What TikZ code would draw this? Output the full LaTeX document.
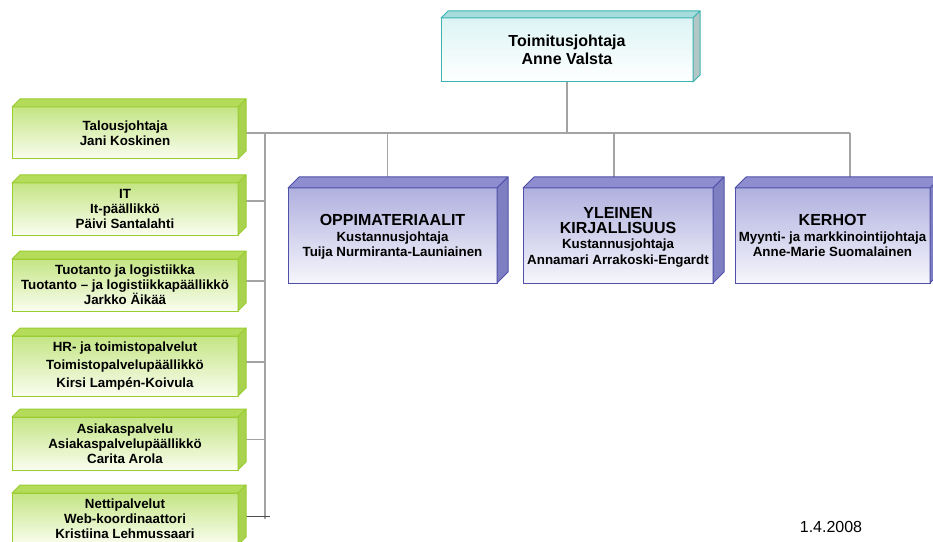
\documentclass[tikz,border=0pt]{standalone}
\usepackage{fontspec}
\setmainfont{Liberation Sans}
\usetikzlibrary{backgrounds}

\definecolor{viiva}{HTML}{A3A3A3}
\definecolor{tealline}{HTML}{3DB3B3}
\definecolor{tealtop}{HTML}{DDF4F4}
\definecolor{tealbevel}{HTML}{A6DCDC}
\definecolor{tealside}{HTML}{B2C6C6}
\definecolor{grnline}{HTML}{9ACD32}
\definecolor{grntop}{HTML}{C4E584}
\definecolor{grnbot}{HTML}{FAFDF0}
\definecolor{grnbevel}{HTML}{B5DB5A}
\definecolor{grnside}{HTML}{A9D24E}
\definecolor{purline}{HTML}{5050A8}
\definecolor{purtop}{HTML}{B0B0DF}
\definecolor{purbot}{HTML}{F6F6FC}
\definecolor{purbevel}{HTML}{8D8DCF}
\definecolor{purside}{HTML}{7E7EC2}

\tikzset{
  laatikko/.style={rectangle,inner sep=0pt,outer sep=0pt,line width=0.75pt,align=center},
  johto/.style={laatikko,draw=tealline,top color=tealtop,bottom color=white,
    minimum width=189pt,minimum height=48pt,font=\bfseries\fontsize{12}{13.5}\selectfont},
  tuki/.style={laatikko,draw=grnline,top color=grntop,bottom color=grnbot,
    minimum width=169.5pt,minimum height=39pt,font=\bfseries\fontsize{10}{11.25}\selectfont},
  yksikko/.style={laatikko,draw=purline,top color=purtop,bottom color=purbot,
    minimum height=71.25pt,text depth=-6pt,font=\bfseries\fontsize{10}{11.5}\selectfont},
  linkki/.style={draw=viiva,line width=1pt}
}

\begin{document}
\begin{tikzpicture}[x=0.75pt,y=-0.75pt]
\useasboundingbox (0,0) rectangle (933,542);
\clip (0,0) rectangle (933,542);
% ---------- toimitusjohtaja ----------
\node[johto] (ceo) at (567,50) {Toimitusjohtaja\\Anne Valsta};
% ---------- tukitoiminnot ----------
\node[tuki] (talous) at (125,133) {Talousjohtaja\\Jani Koskinen};
\node[tuki] (it) at (125,209) {IT\\It-päällikkö\\Päivi Santalahti};
\node[tuki] (tuotanto) at (125,285) {Tuotanto ja logistiikka\\Tuotanto – ja logistiikkapäällikkö\\Jarkko Äikää};
\node[tuki,minimum height=45pt] (hr) at (125,366) {HR- ja toimistopalvelut\\[2pt]Toimistopalvelupäällikkö\\[2pt]Kirsi Lampén-Koivula};
\node[tuki,minimum height=39.75pt] (asiakas) at (125,443.5) {Asiakaspalvelu\\Asiakaspalvelupäällikkö\\Carita Arola};
\node[tuki] (netti) at (125,519) {Nettipalvelut\\Web-koordinaattori\\Kristiina Lehmussaari};
% ---------- liiketoimintayksiköt ----------
\node[yksikko,minimum width=156.75pt] (oppi) at (392.5,235.5)
  {{\bfseries\fontsize{12}{14}\selectfont OPPIMATERIAALIT}\\Kustannusjohtaja\\Tuija Nurmiranta-Launiainen};
\node[yksikko,minimum width=142.5pt] (yleinen) at (618,235.5)
  {{\bfseries\fontsize{12}{14}\selectfont YLEINEN}\\{\bfseries\fontsize{12}{14}\selectfont KIRJALLISUUS}\\Kustannusjohtaja\\Annamari Arrakoski-Engardt};
\node[yksikko,minimum width=146.25pt] (kerhot) at (832.5,235.5)
  {{\bfseries\fontsize{12}{14}\selectfont KERHOT}\\Myynti- ja markkinointijohtaja\\Anne-Marie Suomalainen};
% ---------- 3d-reunat ----------
\foreach \n/\d/\t/\s/\r in {ceo/7/tealbevel/tealside/tealline,
    talous/8/grnbevel/grnside/grnline, it/8/grnbevel/grnside/grnline,
    tuotanto/8/grnbevel/grnside/grnline, hr/8/grnbevel/grnside/grnline,
    asiakas/8/grnbevel/grnside/grnline, netti/8/grnbevel/grnside/grnline,
    oppi/11/purbevel/purside/purline, yleinen/11/purbevel/purside/purline,
    kerhot/11/purbevel/purside/purline}{
  \draw[draw=\r,fill=\t,line width=0.75pt,line join=round] (\n.north west) -- ++(\d,-\d)
    -- ([shift={(\d,-\d)}]\n.north east) -- (\n.north east) -- cycle;
  \draw[draw=\r,fill=\s,line width=0.75pt,line join=round] (\n.north east) -- ++(\d,-\d)
    -- ([shift={(\d,-\d)}]\n.south east) -- (\n.south east) -- cycle;
}
% ---------- yhteydet ----------
\begin{scope}[on background layer]
\fill[white] (0,0) rectangle (933,542);
\coordinate (jako) at (265,132);
\draw[linkki] (talous.east) -- ([xshift=13pt]kerhot.north |- talous.east);
\draw[linkki] (ceo.south) -- (ceo.south |- talous.east);
\draw[linkki] ([xshift=-4pt]oppi.north) -- ([xshift=-4pt]oppi.north |- talous.east);
\draw[linkki] ([xshift=-3pt]yleinen.north) -- ([xshift=-3pt]yleinen.north |- talous.east);
\draw[linkki] ([xshift=13pt]kerhot.north) -- ([xshift=13pt]kerhot.north |- talous.east);
\draw[linkki] (jako) -- (jako |- netti.east);
\draw[linkki] ([yshift=6pt]it.east) -- ([yshift=6pt]it.east -| jako);
\foreach \n in {tuotanto,hr,asiakas}
  \draw[linkki] ([yshift=3pt]\n.east) -- ([yshift=3pt]\n.east -| jako);
\draw[linkki,draw=black!70] ([yshift=2pt]netti.east) -- ([yshift=2pt,xshift=4pt]netti.east -| jako);
\end{scope}
\node[font=\fontsize{12}{14}\selectfont] (pvm) at (831,527) {1.4.2008};
\end{tikzpicture}
\end{document}
